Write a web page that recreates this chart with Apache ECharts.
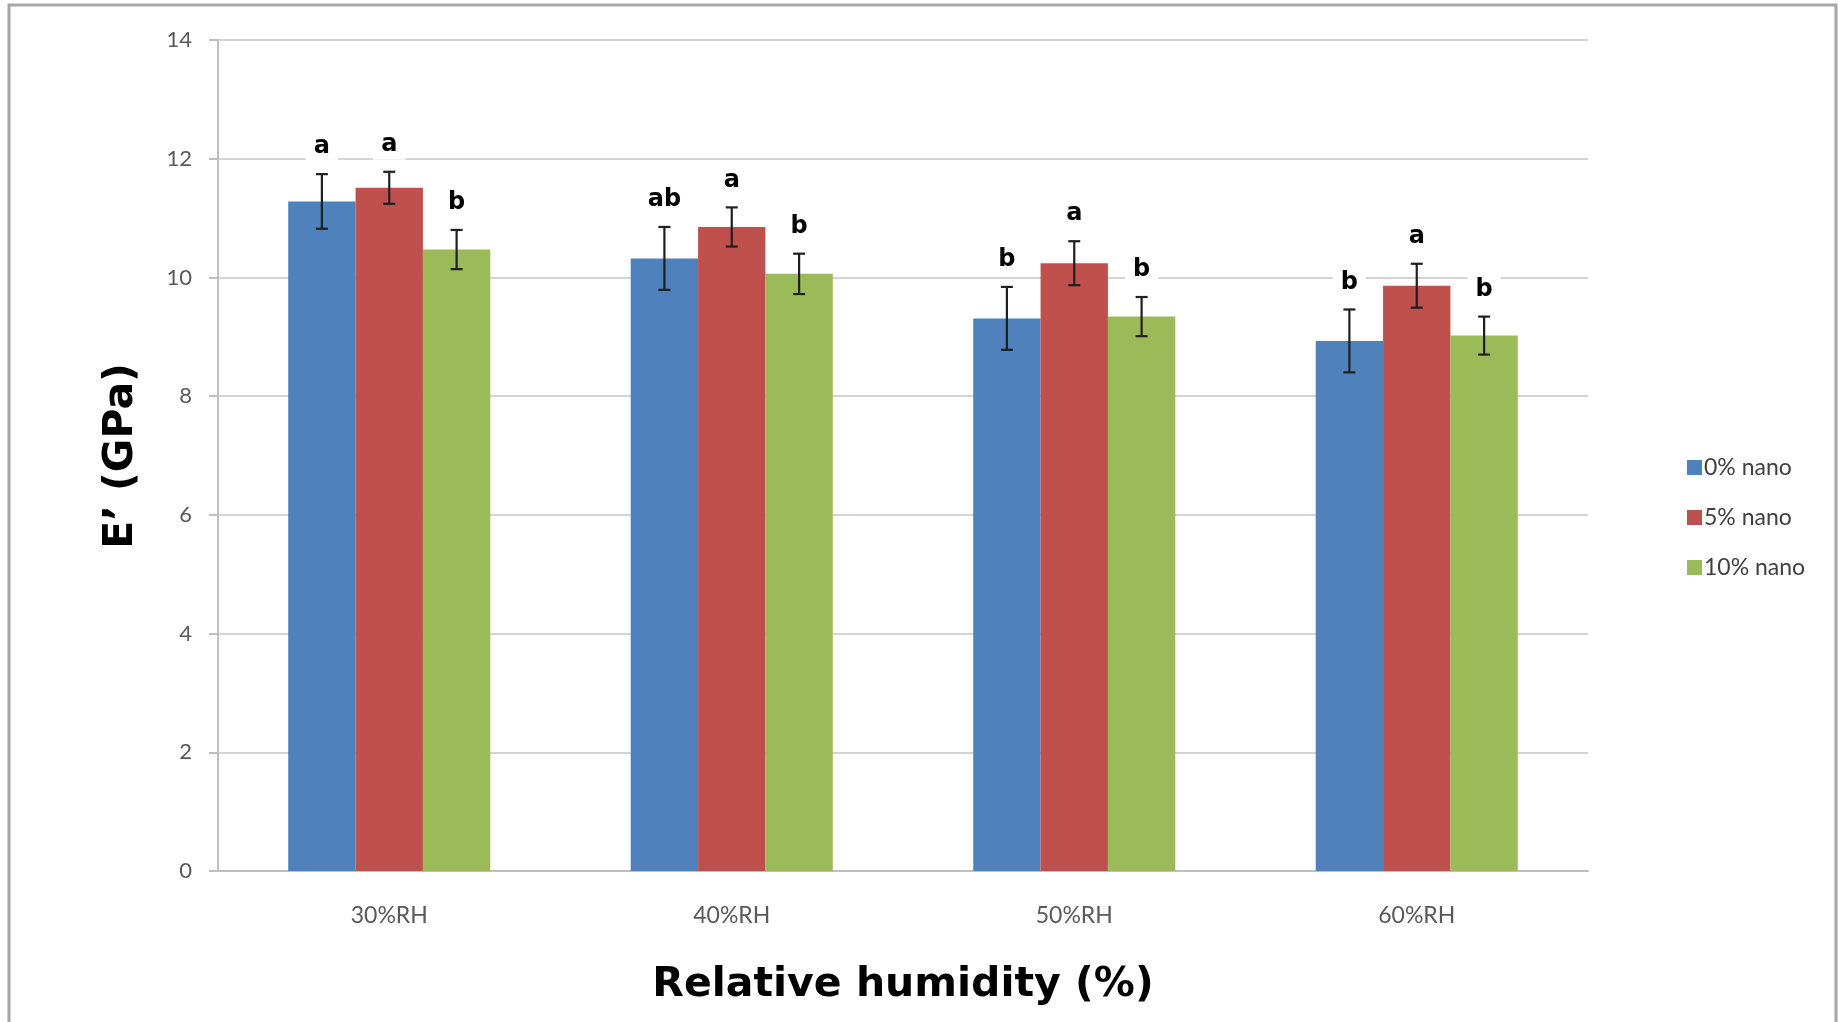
<!DOCTYPE html>
<html>
<head>
<meta charset="utf-8">
<script src="https://cdn.jsdelivr.net/npm/echarts@6/dist/echarts.min.js"></script>
<style>html,body{margin:0;padding:0;background:#fff;}#c{width:1838px;height:1022px;}</style>
</head>
<body>
<div id="c"></div>
<script>
const categories = ['30%RH', '40%RH', '50%RH', '60%RH'];
const seriesNames = ['0% nano', '5% nano', '10% nano'];
const nano0 = [11.28, 10.32, 9.31, 8.93];
const nano5 = [11.51, 10.85, 10.24, 9.86];
const nano10 = [10.47, 10.06, 9.34, 9.02];
const err0 = [0.46, 0.53, 0.53, 0.53];
const err5 = [0.27, 0.33, 0.37, 0.37];
const err10 = [0.33, 0.34, 0.33, 0.32];
const letters0 = ['a', 'ab', 'b', 'b'];
const letters5 = ['a', 'a', 'a', 'a'];
const letters10 = ['b', 'b', 'b', 'b'];
const yMin = 0, yMax = 14, yStep = 2;
const xTitle = 'Relative humidity (%)';
const yTitle = 'E\u2019 (GPa)';

const colors = ['#4F81BD', '#C0504D', '#9BBB59'];
const values = [nano0, nano5, nano10];
const errs = [err0, err5, err10];
const letters = [letters0, letters5, letters10];
const catGap = 0.41;

function errSeries(si) {
  return {
    type: 'custom',
    name: 'err' + si,
    z: 5,
    data: categories.map((c, i) => [i, values[si][i], errs[si][i]]),
    encode: { x: 0, y: 1 },
    renderItem: function (params, api) {
      const ci = api.value(0), v = api.value(1), e = api.value(2);
      const band = api.size([1, 0])[0];
      const bw = band * (1 - catGap) / 3;
      const x = api.coord([ci, 0])[0] + (si - 1) * bw;
      const top = api.coord([ci, v + e])[1];
      const bot = api.coord([ci, v - e])[1];
      const cap = 6;
      const ls = { stroke: '#1f1f1f', lineWidth: 2.2 };
      return {
        type: 'group',
        children: [
          { type: 'line', shape: { x1: x, y1: top, x2: x, y2: bot }, style: ls },
          { type: 'line', shape: { x1: x - cap, y1: top, x2: x + cap, y2: top }, style: ls },
          { type: 'line', shape: { x1: x - cap, y1: bot, x2: x + cap, y2: bot }, style: ls },
          { type: 'text', z2: 10, style: {
              x: x, y: top - 27, text: letters[si][params.dataIndex],
              fill: '#000', font: 'bold 24px "DejaVu Sans", Verdana, sans-serif',
              align: 'center', verticalAlign: 'middle',
              backgroundColor: '#fff', padding: [3, 8]
          } }
        ]
      };
    }
  };
}

const chart = echarts.init(document.getElementById('c'), null, { renderer: 'canvas' });
chart.setOption({
  backgroundColor: '#fff',
  animation: false,
  grid: { left: 218, right: 250, top: 40, bottom: 151 },
  legend: {
    data: seriesNames,
    orient: 'vertical',
    left: 1682, top: 451,
    icon: 'rect', itemWidth: 15, itemHeight: 15, itemGap: 27,
    textStyle: { fontFamily: 'Lato', fontSize: 23, color: '#404040', lineHeight: 22, padding: [0, 0, 0, -3] }
  },
  xAxis: {
    type: 'category', data: categories,
    axisLine: { lineStyle: { color: '#BFBFBF', width: 2 } },
    axisTick: { show: false },
    axisLabel: { fontFamily: 'Lato', fontSize: 23, color: '#595959', margin: 33 },
    splitLine: { show: false }
  },
  yAxis: {
    type: 'value', min: yMin, max: yMax, interval: yStep,
    axisLine: { show: true, lineStyle: { color: '#BFBFBF', width: 2 } },
    axisTick: { show: true, length: 9, lineStyle: { color: '#BFBFBF', width: 2 } },
    axisLabel: { fontFamily: 'Lato', fontSize: 22, color: '#595959', margin: 26 },
    splitLine: { lineStyle: { color: '#D4D4D4', width: 2 } }
  },
  series: [
    ...seriesNames.map((n, si) => ({
      type: 'bar', name: n, data: values[si],
      itemStyle: { color: colors[si] },
      barGap: '0%', barCategoryGap: (catGap * 100) + '%'
    })),
    errSeries(0), errSeries(1), errSeries(2)
  ],
  graphic: [
    { type: 'rect', shape: { x: 9, y: 5, width: 1827, height: 1030 }, style: { fill: 'none', stroke: '#A6A6A6', lineWidth: 3 }, silent: true },
    { type: 'text', x: 903, y: 985, style: { text: xTitle, font: 'bold 41px "DejaVu Sans", Verdana, sans-serif', fill: '#000', align: 'center', verticalAlign: 'middle' } },
    { type: 'text', x: 121, y: 456, rotation: Math.PI / 2, style: { text: yTitle, font: 'bold 41px "DejaVu Sans", Verdana, sans-serif', fill: '#000', align: 'center', verticalAlign: 'middle' } }
  ]
});
</script>
</body>
</html>
